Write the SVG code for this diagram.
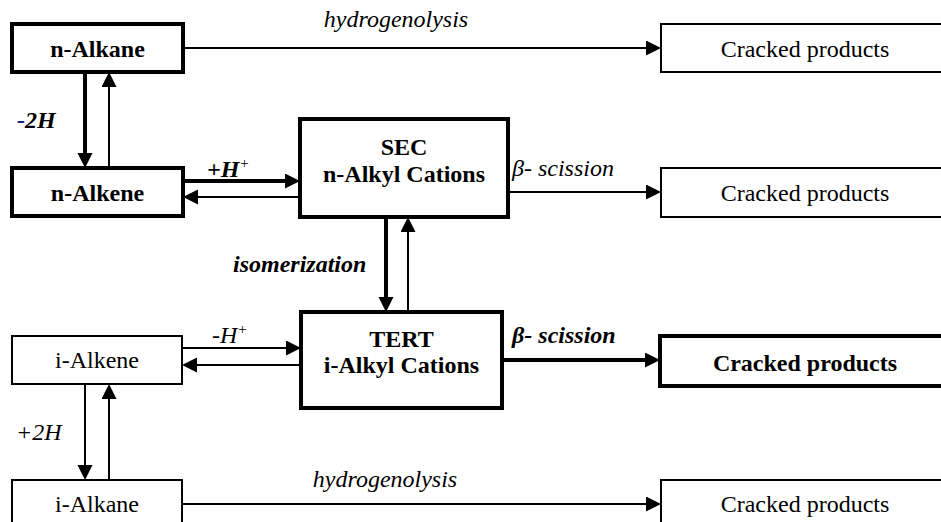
<svg xmlns="http://www.w3.org/2000/svg" width="941" height="522" viewBox="0 0 941 522">
  <defs>
    <marker id="head" markerUnits="userSpaceOnUse" markerWidth="16" markerHeight="16" refX="0" refY="7.5" orient="auto">
      <path d="M0,0 L15,7.5 L0,15 Z" fill="#000"/>
    </marker>
  </defs>
  <rect width="941" height="522" fill="#fff"/>

  <!-- connectors (lines stop 15px short of the tip; the head fills the rest) -->
  <g id="connectors" fill="none" stroke="#000" marker-end="url(#head)">
    <line stroke-width="2" x1="183" y1="48" x2="646" y2="48"/>
    <line stroke-width="4" x1="85" y1="72" x2="85" y2="153"/>
    <line stroke-width="2" x1="109" y1="168" x2="109" y2="87"/>
    <line stroke-width="4" x1="183" y1="181" x2="285" y2="181"/>
    <line stroke-width="2" x1="300" y1="197" x2="198" y2="197"/>
    <line stroke-width="2" x1="508" y1="192" x2="646" y2="192"/>
    <line stroke-width="4" x1="386" y1="217" x2="386" y2="297"/>
    <line stroke-width="2" x1="408" y1="312" x2="408" y2="232"/>
    <line stroke-width="2" x1="182" y1="348" x2="286" y2="348"/>
    <line stroke-width="2" x1="301" y1="365" x2="197" y2="365"/>
    <line stroke-width="4" x1="502" y1="360" x2="645" y2="360"/>
    <line stroke-width="2" x1="85" y1="384" x2="85" y2="465"/>
    <line stroke-width="2" x1="109" y1="480" x2="109" y2="399"/>
    <line stroke-width="2" x1="182" y1="504" x2="646" y2="504"/>
  </g>

  <!-- connector labels -->
  <g id="labels">
    <text font-family="Liberation Serif" font-size="24" font-style="italic" text-anchor="middle" x="396" y="27">hydrogenolysis</text>
    <text font-family="Liberation Serif" font-size="24" font-weight="bold" font-style="italic" x="17" y="128"><tspan fill="#1a1a8c">-</tspan>2H</text>
    <text font-family="Liberation Serif" font-size="24" font-weight="bold" font-style="italic" x="207" y="177">+H<tspan font-size="15" font-weight="normal" dy="-9">+</tspan></text>
    <text font-family="Liberation Serif" font-size="24" font-style="italic" x="512" y="176">β- scission</text>
    <text font-family="Liberation Serif" font-size="24" font-weight="bold" font-style="italic" x="233" y="272">isomerization</text>
    <text font-family="Liberation Serif" font-size="24" font-style="italic" x="212" y="343">-H<tspan font-size="15" dy="-9">+</tspan></text>
    <text font-family="Liberation Serif" font-size="24" font-weight="bold" font-style="italic" x="512" y="343">β- scission</text>
    <text font-family="Liberation Serif" font-size="24" font-style="italic" x="16" y="440">+2H</text>
    <text font-family="Liberation Serif" font-size="24" font-style="italic" text-anchor="middle" x="385" y="487">hydrogenolysis</text>
  </g>

  <!-- nodes -->
  <g id="n-alkane">
    <rect fill="#fff" stroke="#000" stroke-width="4" x="12" y="24" width="171" height="48"/>
    <text font-family="Liberation Serif" font-size="24" font-weight="bold" text-anchor="middle" x="97.5" y="57">n-Alkane</text>
  </g>
  <g id="n-alkene">
    <rect fill="#fff" stroke="#000" stroke-width="4" x="12" y="168" width="171" height="48"/>
    <text font-family="Liberation Serif" font-size="24" font-weight="bold" text-anchor="middle" x="97.5" y="201">n-Alkene</text>
  </g>
  <g id="sec-cations">
    <rect fill="#fff" stroke="#000" stroke-width="4" x="300" y="119" width="208" height="98"/>
    <text font-family="Liberation Serif" font-size="24" font-weight="bold" text-anchor="middle" x="404" y="155">SEC</text>
    <text font-family="Liberation Serif" font-size="24" font-weight="bold" text-anchor="middle" x="404" y="182">n-Alkyl Cations</text>
  </g>
  <g id="tert-cations">
    <rect fill="#fff" stroke="#000" stroke-width="4" x="301" y="312" width="201" height="96"/>
    <text font-family="Liberation Serif" font-size="24" font-weight="bold" text-anchor="middle" x="401.5" y="347">TERT</text>
    <text font-family="Liberation Serif" font-size="24" font-weight="bold" text-anchor="middle" x="401.5" y="373">i-Alkyl Cations</text>
  </g>
  <g id="i-alkene">
    <rect fill="#fff" stroke="#000" stroke-width="2" x="12" y="336" width="170" height="48"/>
    <text font-family="Liberation Serif" font-size="24" text-anchor="middle" x="97" y="368">i-Alkene</text>
  </g>
  <g id="i-alkane">
    <rect fill="#fff" stroke="#000" stroke-width="2" x="12" y="480" width="170" height="60"/>
    <text font-family="Liberation Serif" font-size="24" text-anchor="middle" x="97" y="512">i-Alkane</text>
  </g>
  <g id="cracked-1">
    <rect fill="#fff" stroke="#000" stroke-width="2" x="661" y="24" width="290" height="48"/>
    <text font-family="Liberation Serif" font-size="24" text-anchor="middle" x="805" y="57">Cracked products</text>
  </g>
  <g id="cracked-2">
    <rect fill="#fff" stroke="#000" stroke-width="2" x="661" y="168" width="290" height="49"/>
    <text font-family="Liberation Serif" font-size="24" text-anchor="middle" x="805" y="201">Cracked products</text>
  </g>
  <g id="cracked-3">
    <rect fill="#fff" stroke="#000" stroke-width="4" x="660" y="336" width="291" height="50"/>
    <text font-family="Liberation Serif" font-size="24" font-weight="bold" text-anchor="middle" x="805" y="371">Cracked products</text>
  </g>
  <g id="cracked-4">
    <rect fill="#fff" stroke="#000" stroke-width="2" x="661" y="480" width="290" height="60"/>
    <text font-family="Liberation Serif" font-size="24" text-anchor="middle" x="805" y="512">Cracked products</text>
  </g>
</svg>
